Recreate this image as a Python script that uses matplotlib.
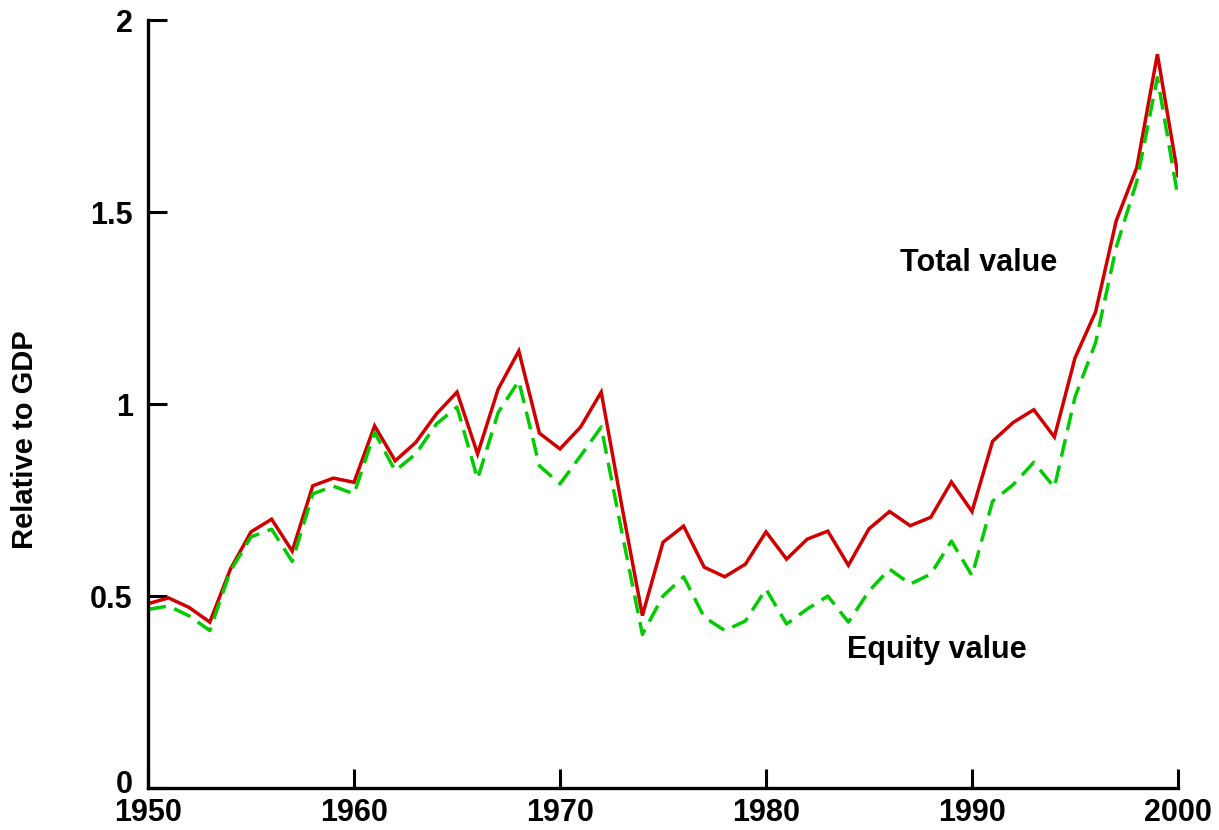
import matplotlib
matplotlib.use("Agg")
import matplotlib.pyplot as plt
import matplotlib.transforms as mtransforms

years = list(range(1950, 2001))
total_value = [0.48, 0.495, 0.47, 0.432, 0.57, 0.667, 0.70, 0.617, 0.787, 0.807,
               0.796, 0.943, 0.852, 0.90, 0.974, 1.031, 0.87, 1.039, 1.138, 0.924,
               0.883, 0.94, 1.031, 0.735, 0.449, 0.64, 0.682, 0.575, 0.55, 0.583,
               0.667, 0.596, 0.648, 0.669, 0.58, 0.675, 0.72, 0.683, 0.705, 0.797,
               0.72, 0.903, 0.952, 0.985, 0.914, 1.12, 1.24, 1.477, 1.616, 1.911,
               1.594]
equity_value = [0.465, 0.474, 0.448, 0.41, 0.565, 0.654, 0.674, 0.59, 0.766, 0.786,
                0.766, 0.926, 0.826, 0.87, 0.948, 0.992, 0.805, 0.978, 1.06, 0.839,
                0.792, 0.865, 0.94, 0.667, 0.40, 0.50, 0.55, 0.445, 0.41, 0.435,
                0.518, 0.427, 0.466, 0.50, 0.432, 0.513, 0.57, 0.531, 0.557, 0.643,
                0.553, 0.747, 0.79, 0.848, 0.783, 1.018, 1.16, 1.408, 1.58, 1.85,
                1.538]
x_ticks = [1950, 1960, 1970, 1980, 1990, 2000]
y_ticks = [0, 0.5, 1, 1.5, 2]
y_tick_labels = ["0", "0.5", "1", "1.5", "2"]

plt.rcParams['font.family'] = ['Liberation Sans', 'DejaVu Sans']
plt.rcParams['font.weight'] = 'bold'
plt.rcParams['lines.scale_dashes'] = False

fig = plt.figure(figsize=(12.19, 8.30), dpi=100)
ax = fig.add_axes([148/1219, 1 - 788/830, (1178 - 148)/1219, (788 - 20)/830])

ax.plot(years, total_value, color='#D00000', lw=2.5, solid_joinstyle='miter')
ax.plot(years, equity_value, color='#00CC00', lw=2.5, dashes=(13, 6.5))

ax.set_xlim(1950, 2000)
ax.set_ylim(0, 2)
ax.set_xticks(x_ticks)
ax.set_yticks(y_ticks)
ax.set_yticklabels(y_tick_labels)

for s in ['top', 'right']:
    ax.spines[s].set_visible(False)
for s in ['left', 'bottom']:
    ax.spines[s].set_linewidth(2.4)
    ax.spines[s].set_color('black')

ax.tick_params(axis='both', direction='in', length=14, width=2.2,
               labelsize=22, colors='black')
ax.tick_params(axis='x', pad=7)
ax.tick_params(axis='y', pad=11)
for lab in ax.get_xticklabels() + ax.get_yticklabels():
    lab.set_fontweight('bold')

# nudge the "0" label up slightly so it sits above "1950" as in the reference
zero_lab = ax.yaxis.get_major_ticks()[0].label1
zero_lab.set_transform(zero_lab.get_transform() +
                       mtransforms.ScaledTranslation(0, 5/72, fig.dpi_scale_trans))

ax.text(1990.3, 1.367, "Total value", fontsize=22, fontweight='bold',
        ha='center', va='center')
ax.text(1988.3, 0.36, "Equity value", fontsize=22, fontweight='bold',
        ha='center', va='center')

fig.text(25/1219, 1 - 440/830, "Relative to GDP", rotation=90, fontsize=21,
         fontweight='bold', ha='center', va='center')

fig.savefig("out.png", dpi=100)
